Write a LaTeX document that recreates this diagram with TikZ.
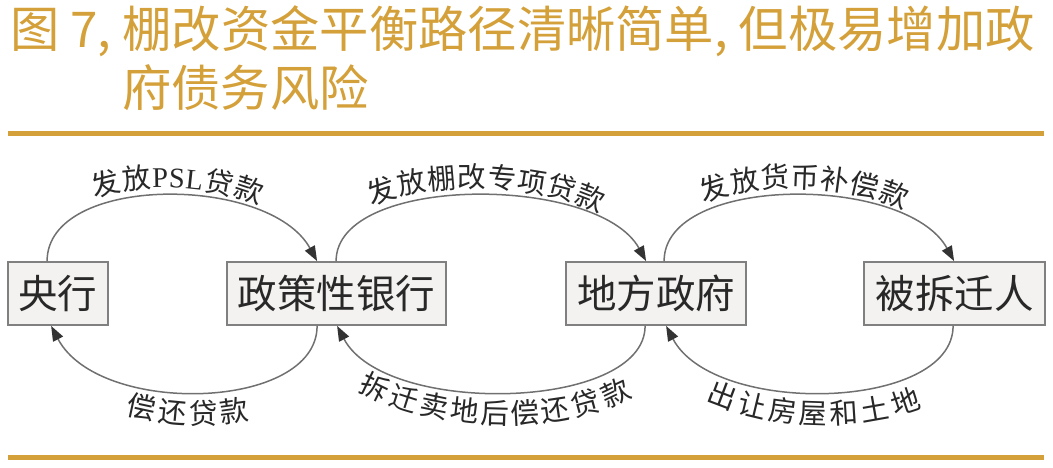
\documentclass[tikz,border=0pt]{standalone}
\usepackage{fontspec}
\newfontfamily\cjk{Noto Sans CJK SC}
\newfontfamily\lser{Liberation Serif}
\usetikzlibrary{arrows.meta,decorations.text}
\definecolor{gold}{RGB}{212,160,58}
\definecolor{boxfill}{RGB}{243,242,240}
\definecolor{boxline}{RGB}{128,128,128}
\definecolor{txt}{RGB}{40,40,40}
\definecolor{arcline}{RGB}{112,112,112}
\definecolor{tipc}{RGB}{51,51,51}
\newcommand\labf{\cjk\fontsize{28.5}{28.5}\selectfont}
\newcommand\labl{\lser\fontsize{28.5}{28.5}\selectfont}
\begin{document}
\begin{tikzpicture}[x=1pt,y=-1pt,
  ent/.style={draw=boxline, line width=1.8pt, fill=boxfill, minimum height=63pt, inner sep=0pt,
    font=\cjk\fontsize{39.5}{39.5}\selectfont, text=txt},
  flow/.style={draw=arcline, line width=1.5pt, -{Triangle[length=15pt,width=11pt,color=tipc]}},
  titletext/.style={anchor=base west, inner sep=0pt, text=gold, font=\cjk\fontsize{49.3}{49.3}\selectfont},
  rule/.style={draw=gold, line width=5pt},
  uplab/.style={decorate, decoration={text along path, text align=center, raise=8pt, text color=txt}},
  downlab/.style={decorate, decoration={text along path, text align=center, raise=-32pt, text color=txt}}
]
\useasboundingbox (0,0) rectangle (1053,468);

% title
\node[titletext] (t1) at (10,48) {图 7, 棚改资金平衡路径清晰简单, 但极易增加政};
\node[titletext] (t2) at (122,107) {府债务风险};
\coordinate (r1a) at (8,134);
\coordinate (r1b) at (1044,134);
\coordinate (r2a) at (8,457.5);
\coordinate (r2b) at (1044,457.5);
\draw[rule] (r1a) -- (r1b);
\draw[rule] (r2a) -- (r2b);

% boxes
\node[ent, minimum width=100pt] (yh) at (58,293.5) {央行};
\node[ent, minimum width=219pt] (zc) at (336.5,293.5) {政策性银行};
\node[ent, minimum width=180pt] (df) at (656,293.5) {地方政府};
\node[ent, minimum width=181pt] (bc) at (954.5,293.5) {被拆迁人};

% pair 1
\draw[flow] ([xshift=40pt]yh.north west) .. controls +(0,-87) and +(-48,-87) .. ([xshift=91pt]zc.north west);
\path[uplab, decoration={text={|\labf|发放|\labl|PSL|\labf|贷款}}]
  ([xshift=40pt]yh.north west) .. controls +(0,-87) and +(-48,-87) .. ([xshift=91pt]zc.north west);
\draw[flow] ([xshift=91pt]zc.south west) .. controls +(0,85) and +(48,91) .. ([xshift=44pt]yh.south west);
\path[downlab, decoration={text={|\labf|偿还贷款}}]
  ([xshift=44pt]yh.south west) .. controls +(48,91) and +(0,85) .. ([xshift=91pt]zc.south west);

% pair 2
\draw[flow] ([xshift=110pt]zc.north west) .. controls +(0,-87) and +(-48,-87) .. ([xshift=81pt]df.north west);
\path[uplab, decoration={text={|\labf|发放棚改专项贷款}}]
  ([xshift=110pt]zc.north west) .. controls +(0,-87) and +(-48,-87) .. ([xshift=81pt]df.north west);
\draw[flow] ([xshift=80pt]df.south west) .. controls +(0,85) and +(48,91) .. ([xshift=111pt]zc.south west);
\path[downlab, decoration={text={|\labf|拆迁卖地后偿还贷款}}]
  ([xshift=111pt]zc.south west) .. controls +(48,91) and +(0,85) .. ([xshift=80pt]df.south west);

% pair 3
\draw[flow] ([xshift=99pt]df.north west) .. controls +(0,-87) and +(-48,-87) .. ([xshift=91pt]bc.north west);
\path[uplab, decoration={text={|\labf|发放货币补偿款}}]
  ([xshift=99pt]df.north west) .. controls +(0,-87) and +(-48,-87) .. ([xshift=91pt]bc.north west);
\draw[flow] ([xshift=90pt]bc.south west) .. controls +(0,85) and +(48,91) .. ([xshift=101pt]df.south west);
\path[downlab, decoration={text={|\labf|出让房屋和土地}}]
  ([xshift=101pt]df.south west) .. controls +(48,91) and +(0,85) .. ([xshift=90pt]bc.south west);
\end{tikzpicture}
\end{document}
